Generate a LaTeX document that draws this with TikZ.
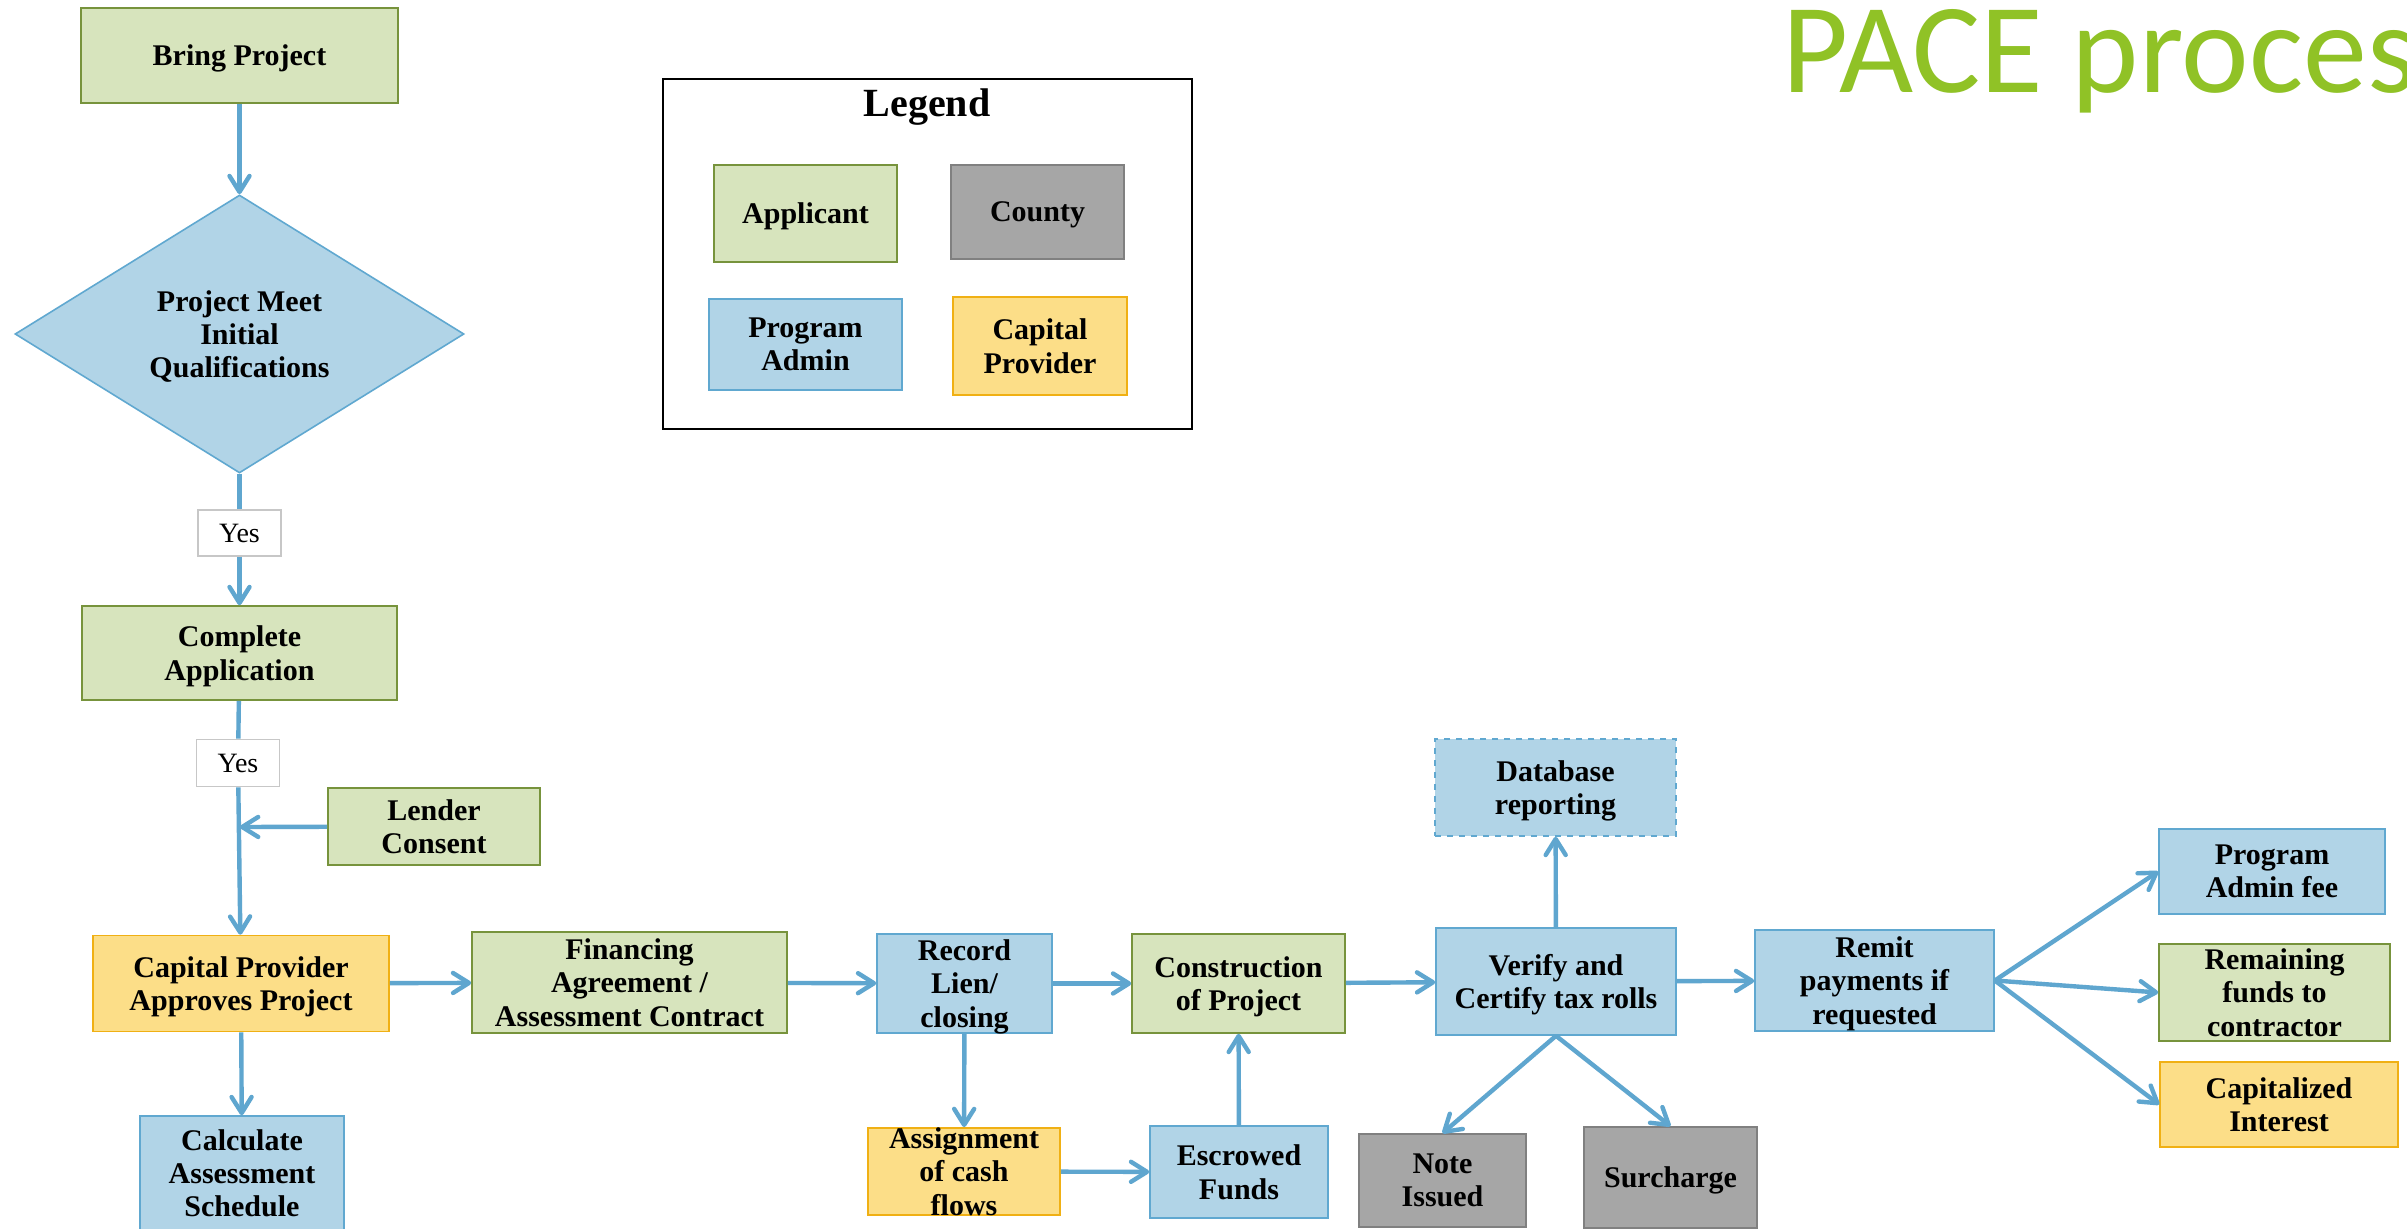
\documentclass[tikz,border=0pt]{standalone}
\usepackage{fontspec}
\setmainfont{Liberation Serif}
\newfontfamily\titlefont{Carlito}
\usetikzlibrary{arrows.meta,shapes.geometric}
\definecolor{pcgreen}{RGB}{215,228,189}
\definecolor{pcgreenln}{RGB}{119,147,60}
\definecolor{pcblue}{RGB}{177,212,231}
\definecolor{pcblueln}{RGB}{96,168,208}
\definecolor{pcorange}{RGB}{252,222,136}
\definecolor{pcorangeln}{RGB}{240,176,20}
\definecolor{pcgrey}{RGB}{166,166,166}
\definecolor{pcgreyln}{RGB}{128,128,128}
\definecolor{pcarrow}{RGB}{95,166,207}
\definecolor{pctitle}{RGB}{144,194,38}

\begin{document}
\begin{tikzpicture}[x=0.5pt,y=-0.5pt,>={Straight Barb[length=8pt,width=10pt,round]},
    every node/.style={align=center,inner sep=0pt,font=\fontsize{15}{16.6}\selectfont\bfseries},
    wh/.style 2 args={minimum width=#1*0.5pt,minimum height=#2*0.5pt},
    box/.style={line width=0.8pt,text depth=-2pt},
    appl/.style={box,draw=pcgreenln,fill=pcgreen},
    admin/.style={box,draw=pcblueln,fill=pcblue},
    capital/.style={box,draw=pcorangeln,fill=pcorange},
    county/.style={box,draw=pcgreyln,fill=pcgrey},
    yesbox/.style={draw=black!22,fill=white,line width=0.8pt,font=\fontsize{14}{16}\selectfont},
    flow/.style={draw=pcarrow,line width=2.2pt}]
    \useasboundingbox[fill=white] (0,0) rectangle (2407,1229);
    \clip (0,0) rectangle (2407,1229);
    % title and legend
    \node[font=\titlefont\fontsize{64}{70}\selectfont,text=pctitle,anchor=base west] (title) at (1782,93) {PACE process};
    \node[draw,line width=1pt,wh={529}{350}] (legend) at (927.5,254) {};
    \node[font=\fontsize{20}{24}\selectfont\bfseries,anchor=base] (legtitle) at (927,117) {Legend};
    \node[appl,wh={183}{97}] (lapp) at (805.5,213.5) {Applicant};
    \node[county,wh={173}{94}] (lcounty) at (1037.5,212) {County};
    \node[admin,wh={193}{91}] (ladmin) at (805.5,344.5) {Program\\Admin};
    \node[capital,wh={174}{98}] (lcap) at (1040,346) {Capital\\Provider};
    % left column
    \node[appl,wh={317}{95}] (bring) at (239.5,55.5) {Bring Project};
    \node[admin,diamond,aspect=1.6,text depth=-4.6pt,wh={449}{278}] (qual) at (239.5,334) {Project Meet\\Initial\\Qualifications};
    \node[yesbox,wh={83}{46}] (yes1) at (239.5,533) {Yes};
    \node[appl,wh={315}{94}] (apply) at (239.5,653) {Complete\\Application};
    \node[yesbox,wh={83}{47}] (yes2) at (238,763) {Yes};
    \node[appl,wh={212}{77}] (lender) at (434,826.5) {Lender\\Consent};
    \coordinate (join) at (240,827);
    \node[capital,wh={296}{96}] (approve) at (241,983.5) {Capital Provider\\Approves Project};
    \node[admin,wh={204}{114}] (calc) at (242,1173) {Calculate\\Assessment\\Schedule};
    % main row
    \node[appl,wh={315}{101}] (finance) at (629.5,982.5) {Financing\\Agreement /\\Assessment Contract};
    \node[admin,wh={175}{99}] (record) at (964.5,983.5) {Record\\Lien/\\closing};
    \node[appl,wh={213}{99}] (constr) at (1238.5,983.5) {Construction\\of Project};
    \node[capital,wh={192}{87}] (assign) at (964,1171.5) {Assignment\\of cash\\flows};
    \node[admin,wh={178}{92}] (escrow) at (1239,1172) {Escrowed\\Funds};
    \node[admin,wh={240}{107}] (verify) at (1556,981.5) {Verify and\\Certify tax rolls};
    \node[admin,dashed,wh={241}{97}] (dbase) at (1555.5,787.5) {Database\\reporting};
    \node[county,wh={167}{93}] (note) at (1442.5,1180.5) {Note\\Issued};
    \node[county,wh={173}{101}] (surcharge) at (1670.5,1177.5) {Surcharge};
    \node[admin,wh={239}{101}] (remit) at (1874.5,980.5) {Remit\\payments if\\requested};
    \node[admin,wh={226}{85}] (adminfee) at (2272,871.5) {Program\\Admin fee};
    \node[appl,wh={231}{97}] (remain) at (2274.5,992.5) {Remaining\\funds to\\contractor};
    \node[capital,wh={238}{85}] (capint) at (2279,1104.5) {Capitalized\\Interest};
    % connectors
    \draw[flow,->] (bring) -- (qual);
    \draw[flow] (qual) -- (yes1);
    \draw[flow,->] (yes1) -- (apply);
    \draw[flow] (apply) -- (yes2);
    \draw[flow,->] (yes2) -- (approve);
    \draw[flow,->] (lender) -- (join);
    \draw[flow,->] (approve) -- (calc);
    \draw[flow,->] (approve) -- (finance);
    \draw[flow,->] (finance) -- (record);
    \draw[flow,->] (record) -- (constr);
    \draw[flow,->] (record) -- (assign);
    \draw[flow,->] (assign) -- (escrow);
    \draw[flow,->] (escrow) -- (constr);
    \draw[flow,->] (constr) -- (verify);
    \draw[flow,->] (verify) -- (dbase);
    \draw[flow,->] (verify.south) -- (note.north);
    \draw[flow,->] (verify.south) -- (surcharge.north);
    \draw[flow,->] (verify) -- (remit);
    \draw[flow,->] (remit.east) -- (adminfee.west);
    \draw[flow,->] (remit.east) -- (remain.west);
    \draw[flow,->] (remit.east) -- (capint.west);
\end{tikzpicture}
\end{document}
